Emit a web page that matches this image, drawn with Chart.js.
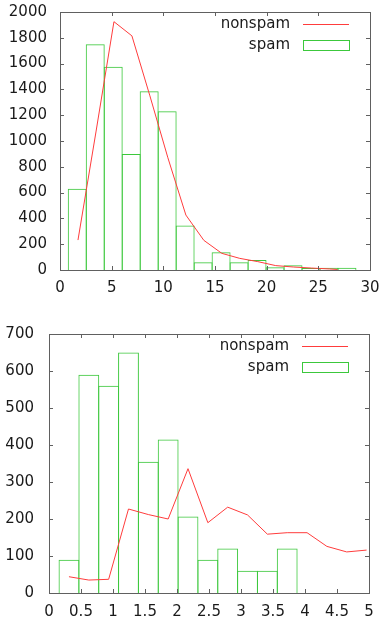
<!DOCTYPE html>
<html><head><meta charset="utf-8">
<script src="https://cdn.jsdelivr.net/npm/chart.js@4.4.1/dist/chart.umd.min.js"></script>
<style>
html,body{margin:0;padding:0;background:#fff;width:380px;height:622px;overflow:hidden}
canvas{position:absolute;left:0}
#c1{top:0}
#c2{top:300px}
</style></head><body>
<canvas id="c1" width="380" height="300"></canvas>
<canvas id="c2" width="380" height="322"></canvas>
<script>
// ---- Top chart data ----
const topSpamX = [1.67,3.41,5.15,6.89,8.63,10.37,12.11,13.85,15.59,17.33,19.07,20.81,22.55,24.29,26.03,27.77];
const topSpamY = [630,1750,1575,900,1385,1230,345,60,137,60,77,21,36,15,18,18];
const topNonspamX = [1.74,3.48,5.22,6.96,8.70,10.44,12.18,13.92,15.66,17.40,19.14,20.88,22.62,24.36,26.10,26.85];
const topNonspamY = [232,1070,1925,1815,1350,870,426,230,129,90,65,34,23,15,8,4];
const topXTicks = [0,5,10,15,20,25,30];
const topYTicks = [0,200,400,600,800,1000,1200,1400,1600,1800,2000];

// ---- Bottom chart data ----
const botSpamX = [0.312,0.622,0.932,1.242,1.552,1.862,2.172,2.482,2.792,3.102,3.412,3.722];
const botSpamY = [90,590,560,650,355,415,207,90,120,60,60,120];
const botNonspamX = [0.312,0.622,0.932,1.242,1.552,1.862,2.172,2.482,2.792,3.102,3.412,3.722,4.032,4.342,4.652,4.962];
const botNonspamY = [44,35,37,227,212,200,336,190,232,211,159,163,163,126,111,116];
const botXTicks = [0,0.5,1,1.5,2,2.5,3,3.5,4,4.5,5];
const botYTicks = [0,100,200,300,400,500,600,700];

const seriesNames = ['nonspam','spam'];

const FONT_FAMILY = '"DejaVu Sans", sans-serif';
const FONT_SIZE = 15;
const TEXT = '#1a1a1a';
const RED = '#ff3c3c';
const GREEN = '#3cc83c';
const FRAME = '#606060';

const gnuplotPlugin = {
  id: 'gnuplotFrame',
  afterDraw(chart) {
    const {ctx, chartArea: a} = chart;
    const xs = chart.scales.x, ys = chart.scales.y;
    ctx.save();
    ctx.strokeStyle = FRAME;
    ctx.lineWidth = 1;
    ctx.strokeRect(a.left + 0.5, a.top + 0.5, a.right - a.left, a.bottom - a.top);
    const tl = 4;
    ctx.beginPath();
    xs.ticks.forEach(t => {
      const px = Math.round(xs.getPixelForValue(t.value)) + 0.5;
      ctx.moveTo(px, a.bottom); ctx.lineTo(px, a.bottom - tl);
      ctx.moveTo(px, a.top); ctx.lineTo(px, a.top + tl);
    });
    ys.ticks.forEach(t => {
      const py = Math.round(ys.getPixelForValue(t.value)) + 0.5;
      ctx.moveTo(a.left, py); ctx.lineTo(a.left + tl, py);
      ctx.moveTo(a.right, py); ctx.lineTo(a.right - tl, py);
    });
    ctx.stroke();

    // legend (gnuplot style, top right inside)
    const ds = chart.data.datasets;
    const r1 = a.top + 12.3, r2 = a.top + 33.3;
    const tx = a.right - 80, s0 = a.right - 67, s1 = a.right - 21;
    ctx.font = FONT_SIZE + 'px ' + FONT_FAMILY;
    ctx.fillStyle = TEXT;
    ctx.textAlign = 'right';
    ctx.textBaseline = 'middle';
    ctx.fillText(ds[0].label, tx, r1);
    ctx.fillText(ds[1].label, tx, r2);
    ctx.strokeStyle = ds[0].borderColor;
    ctx.beginPath();
    ctx.moveTo(s0, Math.round(r1) + 0.5); ctx.lineTo(s1, Math.round(r1) + 0.5);
    ctx.stroke();
    ctx.strokeStyle = ds[1].borderColor;
    ctx.strokeRect(Math.round(s0) + 0.5, Math.round(r2 - 5) + 0.5, s1 - s0, 10);
    ctx.restore();
  }
};

function makeChart(id, cfg) {
  const spam = cfg.spamX.map((x, i) => ({x, y: cfg.spamY[i]}));
  const nonspam = cfg.nonX.map((x, i) => ({x, y: cfg.nonY[i]}));
  return new Chart(document.getElementById(id), {
    type: 'bar',
    data: {
      datasets: [
        {type: 'line', label: seriesNames[0], data: nonspam, borderColor: RED, borderWidth: 1,
         pointRadius: 0, tension: 0, fill: false},
        {type: 'bar', label: seriesNames[1], data: spam, borderColor: GREEN, backgroundColor: 'rgba(0,0,0,0)',
         borderWidth: 1, borderSkipped: 'start', categoryPercentage: 1, barPercentage: cfg.barPct}
      ]
    },
    options: {
      responsive: false,
      maintainAspectRatio: false,
      animation: false,
      layout: {padding: cfg.padding},
      plugins: {legend: {display: false}, tooltip: {enabled: false}},
      scales: {
        x: {
          type: 'linear', min: cfg.xTicks[0], max: cfg.xTicks[cfg.xTicks.length - 1], offset: false,
          grid: {display: false, drawTicks: false}, border: {display: false},
          afterBuildTicks: s => { s.ticks = cfg.xTicks.map(v => ({value: v})); },
          afterFit: s => { s.height = cfg.xH; s.paddingLeft = 0; s.paddingRight = 0; },
          ticks: {color: TEXT, font: {family: FONT_FAMILY, size: FONT_SIZE}, padding: cfg.xPad,
                  maxRotation: 0, autoSkip: false, callback: v => String(v)}
        },
        y: {
          type: 'linear', min: cfg.yTicks[0], max: cfg.yTicks[cfg.yTicks.length - 1],
          grid: {display: false, drawTicks: false}, border: {display: false},
          afterBuildTicks: s => { s.ticks = cfg.yTicks.map(v => ({value: v})); },
          afterFit: s => { s.width = cfg.yW; s.paddingTop = 0; s.paddingBottom = 0; },
          ticks: {color: TEXT, font: {family: FONT_FAMILY, size: FONT_SIZE}, padding: cfg.yPad,
                  autoSkip: false, callback: v => String(v)}
        }
      }
    },
    plugins: [gnuplotPlugin]
  });
}

makeChart('c1', {
  spamX: topSpamX, spamY: topSpamY, nonX: topNonspamX, nonY: topNonspamY,
  xTicks: topXTicks, yTicks: topYTicks,
  padding: {left: 0, top: 12, right: 10, bottom: 0},
  xH: 30, yW: 60, xPad: 9, yPad: 13, barPct: 1.0556
});
makeChart('c2', {
  spamX: botSpamX, spamY: botSpamY, nonX: botNonspamX, nonY: botNonspamY,
  xTicks: botXTicks, yTicks: botYTicks,
  padding: {left: 0, top: 34, right: 11, bottom: 0},
  xH: 29, yW: 49, xPad: 10, yPad: 15, barPct: 1.0504
});
</script>
</body></html>
